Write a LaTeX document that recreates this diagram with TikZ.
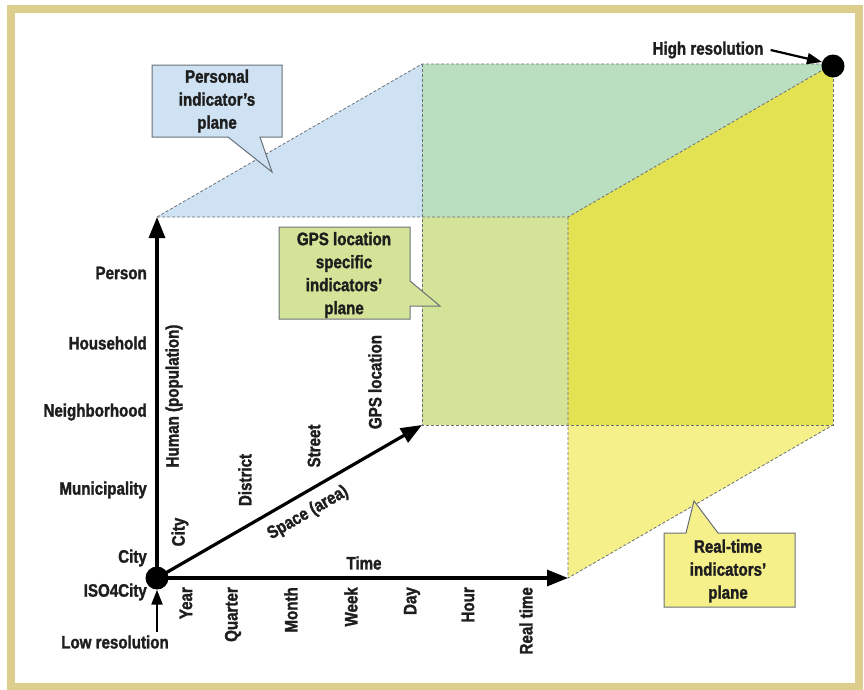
\documentclass[tikz,border=0pt]{standalone}
\usepackage{fontspec}
\setmainfont{Liberation Sans}[FakeStretch=0.85, BoldFont={Liberation Sans Bold}, BoldFeatures={FakeStretch=0.84, FakeBold=1.6}]
\usepackage{xcolor}
\definecolor{frametan}{RGB}{221,206,142}
\definecolor{persblue}{RGB}{207,226,243}
\definecolor{gpsgreen}{RGB}{211,228,152}
\definecolor{overteal}{RGB}{186,222,192}
\definecolor{rtyellow}{RGB}{246,240,138}
\definecolor{overyellow}{RGB}{227,226,82}
\definecolor{edgegray}{RGB}{105,112,120}
\definecolor{inkdark}{RGB}{30,30,30}
\usetikzlibrary{arrows.meta, positioning, calc}

\tikzset{
  lbl/.style={font=\bfseries\fontsize{18}{22}\selectfont, text=inkdark, inner sep=1pt},
  calltext/.style={lbl, align=center, font=\bfseries\fontsize{18}{23}\selectfont},
  axisline/.style={line width=3.2pt, -{Triangle[length=21pt,width=16pt]}},
  cubeedge/.style={edgegray, line width=0.8pt, dash pattern=on 3pt off 2pt},
  callbox/.style={draw=edgegray, line width=1pt, line join=miter},
  dot/.style={circle, fill=black, inner sep=0pt, minimum size=23pt},
}

\begin{document}
\begin{tikzpicture}[x=1pt, y=-1pt]
  \useasboundingbox (0,0) rectangle (864,689);
  % Frame
  \draw[frametan, line width=8pt] (11,9) rectangle (859,687);

  % --- Cube corners ---
  \coordinate (O)   at (157,578);
  \coordinate (Ftl) at (157,217);
  \coordinate (Ftr) at (568,217);
  \coordinate (Fbr) at (568,578);
  \coordinate (Btl) at (422,64);
  \coordinate (Btr) at (833,64);
  \coordinate (Bbr) at (833,425);
  \coordinate (Bbl) at (422,425);

  % Plane fills
  \fill[persblue]   (Ftl) -- (Btl) -- (422,217) -- cycle;
  \fill[overteal]   (Btl) -- (Btr) -- (Ftr) -- (422,217) -- cycle;
  \fill[gpsgreen]   (422,217) rectangle (568,425);
  \fill[overyellow] (Ftr) -- (Btr) -- (Bbr) -- (568,425) -- cycle;
  \fill[rtyellow]   (568,425) -- (Bbr) -- (Fbr) -- cycle;

  % Dashed edges
  \draw[cubeedge] (Ftl) -- (Btl) -- (Btr);
  \draw[cubeedge] (Ftl) -- (Ftr) -- (Btr);
  \draw[cubeedge] (Btl) -- (Bbl) -- (Bbr) -- (Btr);
  \draw[cubeedge] (Ftr) -- (Fbr) -- (Bbr);

  % --- Axes ---
  \draw[axisline] (O) -- (Ftl);
  \draw[axisline] (O) -- (Fbr);
  \draw[axisline] (O) -- (Bbl);
  \node[dot] (odot) at (O) {};
  \node[dot] (hidot) at (833,66) {};

  % Resolution labels
  \node[lbl] (lowres) at (115,642) {Low resolution};
  \coordinate (lowtail) at (157,632);
  \draw[line width=2.2pt, -{Triangle[length=15pt,width=11pt]}] (lowtail) -- (odot.south);
  \node[lbl] (hires) at (708,50) {High resolution};
  \draw[line width=2.2pt, -{Triangle[length=15pt,width=11pt]}] (hires.east) ++(6,0) -- (hidot.160);

  % --- Human axis ---
  \node[lbl, anchor=east] (person)  at (148,273) {Person};
  \node[lbl, anchor=east] (house)   at (148,343) {Household};
  \node[lbl, anchor=east] (neigh)   at (148,412) {Neighborhood};
  \node[lbl, anchor=east] (munic)   at (148,490) {Municipality};
  \node[lbl, anchor=east] (cityh)   at (148,558) {City};
  \node[lbl, anchor=east] (iso)     at (148,592) {ISO4City};
  \node[lbl, rotate=90] (human) at (174,396) {Human (population)};

  % --- Space axis ---
  \node[lbl, rotate=90] (citys)    at (180,532) {City};
  \node[lbl, rotate=90] (district) at (245,480) {District};
  \node[lbl, rotate=90] (street)   at (314,446) {Street};
  \node[lbl, rotate=90] (gpsloc)   at (375,382) {GPS location};
  \node[lbl, rotate=30, inner sep=0pt] (space) at (308,513) {Space (area)};

  % --- Time axis ---
  \node[lbl] (time) at (364,563) {Time};
  \node[lbl, rotate=90, anchor=east] (year)    at (186,586) {Year};
  \node[lbl, rotate=90, anchor=east] (quarter) at (233,586) {Quarter};
  \node[lbl, rotate=90, anchor=east] (month)   at (291,586) {Month};
  \node[lbl, rotate=90, anchor=east] (week)    at (351,586) {Week};
  \node[lbl, rotate=90, anchor=east] (day)     at (412,586) {Day};
  \node[lbl, rotate=90, anchor=east] (hour)    at (468,586) {Hour};
  \node[lbl, rotate=90, anchor=east] (realt)   at (526,586) {Real time};

  % --- Callouts ---
  \draw[callbox, fill=persblue] (152,65) -- (282,65) -- (282,137) -- (260,137) -- (272,172)
    -- (228,137) -- (152,137) -- cycle;
  \node[calltext] (perstext) at (217,101) {Personal\\indicator’s\\plane};

  \draw[callbox, fill=gpsgreen] (279,227) -- (410,227) -- (410,281) -- (440,306) -- (410,306)
    -- (410,319) -- (279,319) -- cycle;
  \node[calltext] (gpstext) at (344,275) {GPS location\\specific\\indicators’\\plane};

  \draw[callbox, fill=rtyellow] (664,533) -- (686,533) -- (694,501) -- (718,533) -- (795,533)
    -- (795,607) -- (664,607) -- cycle;
  \node[calltext] (rttext) at (728,571) {Real-time\\indicators’\\plane};
\end{tikzpicture}
\end{document}
